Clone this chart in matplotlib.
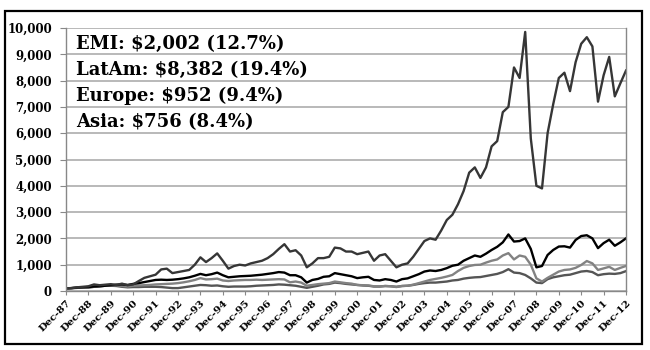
import matplotlib.pyplot as plt
from matplotlib.patches import Rectangle
from matplotlib.ticker import FuncFormatter
import numpy as np

# quarterly index levels, Dec-87 = 100
emi = [100,
       110, 130, 140, 150,
       170, 180, 200, 220,
       240, 250, 230, 270,
       300, 340, 380, 420,
       430, 420, 430, 450,
       480, 520, 580, 650,
       600, 640, 700, 600,
       520, 540, 560, 570,
       580, 600, 620, 650,
       680, 720, 700, 600,
       600, 520, 320, 420,
       460, 540, 560, 680,
       640, 600, 560, 490,
       520, 540, 420, 400,
       450, 420, 360, 450,
       480, 560, 640, 740,
       780, 760, 800, 870,
       960, 1000, 1150, 1250,
       1350, 1300, 1420, 1560,
       1680, 1850, 2150, 1880,
       1900, 2000, 1600, 900,
       950, 1370, 1560, 1690,
       1700, 1650, 1940, 2090,
       2120, 2000, 1630, 1820,
       1950, 1720, 1850, 2002]

latam = [100,
         110, 140, 160, 180,
         250, 220, 240, 260,
         230, 280, 220, 250,
         380, 500, 560, 620,
         820, 850, 680, 720,
         760, 800, 1000, 1280,
         1100, 1250, 1430, 1150,
         850, 950, 1000, 970,
         1050, 1100, 1150, 1250,
         1400, 1600, 1780, 1500,
         1550, 1350, 900, 1050,
         1250, 1250, 1300, 1650,
         1620, 1500, 1500, 1400,
         1450, 1500, 1150, 1350,
         1400, 1150, 900, 1000,
         1050, 1300, 1600, 1900,
         2000, 1950, 2300, 2700,
         2900, 3300, 3800, 4500,
         4700, 4300, 4700, 5500,
         5700, 6800, 7000, 8500,
         8100, 9850, 5800, 4000,
         3900, 6000, 7100, 8100,
         8300, 7600, 8700, 9400,
         9650, 9300, 7200, 8200,
         8900, 7400, 7900, 8382]

europe = [100,
          110, 120, 130, 140,
          160, 180, 200, 210,
          230, 190, 170, 200,
          210, 220, 230, 250,
          260, 270, 280, 300,
          330, 370, 420, 490,
          440, 450, 470, 400,
          380, 400, 410, 420,
          420, 430, 420, 430,
          440, 450, 440, 330,
          360, 320, 200, 230,
          260, 280, 300, 360,
          330, 300, 280, 230,
          220, 210, 180, 170,
          190, 180, 150, 190,
          200, 240, 300, 360,
          420, 460, 500, 550,
          610, 760, 880, 950,
          990, 1000, 1080, 1150,
          1200, 1350, 1440, 1200,
          1350, 1300, 1000, 480,
          360, 500, 620, 740,
          800, 820, 880, 990,
          1140, 1050, 800, 860,
          920, 800, 880, 952]

asia = [100,
        110, 120, 130, 130,
        160, 180, 200, 200,
        190, 160, 140, 150,
        150, 160, 160, 160,
        150, 130, 110, 110,
        140, 170, 200, 230,
        220, 200, 210, 180,
        160, 170, 170, 170,
        180, 200, 210, 220,
        230, 250, 240, 220,
        200, 160, 120, 160,
        200, 250, 270, 320,
        300, 270, 250, 230,
        210, 200, 170, 170,
        190, 180, 160, 190,
        200, 230, 270, 300,
        320, 320, 340, 360,
        400, 420, 470, 500,
        520, 530, 570, 610,
        650, 720, 830, 700,
        680, 610, 480, 320,
        300, 450, 520, 560,
        600, 620, 680, 740,
        760, 720, 600, 640,
        660, 650, 680, 756]

year_labels = ["Dec-87", "Dec-88", "Dec-89", "Dec-90", "Dec-91", "Dec-92",
               "Dec-93", "Dec-94", "Dec-95", "Dec-96", "Dec-97", "Dec-98",
               "Dec-99", "Dec-00", "Dec-01", "Dec-02", "Dec-03", "Dec-04",
               "Dec-05", "Dec-06", "Dec-07", "Dec-08", "Dec-09", "Dec-10",
               "Dec-11", "Dec-12"]

notes = ["EMI: $2,002 (12.7%)", "LatAm: $8,382 (19.4%)",
         "Europe: $952 (9.4%)", "Asia: $756 (8.4%)"]

plt.rcParams['font.family'] = ['DejaVu Serif']
plt.rcParams['font.weight'] = 'bold'

fig = plt.figure(figsize=(6.5, 3.5), dpi=100)
ax = fig.add_axes([66/650, 1 - 291/350, 560/650, 263/350])

x = np.arange(len(emi))
ax.plot(x, asia, color="#555555", lw=1.7)
ax.plot(x, europe, color="#828282", lw=1.7)
ax.plot(x, emi, color="#000000", lw=1.7)
ax.plot(x, latam, color="#363636", lw=1.7)

ax.set_xlim(0, len(emi) - 1)
ax.set_ylim(0, 10000)
ax.set_yticks(np.arange(0, 10001, 1000))
ax.yaxis.set_major_formatter(FuncFormatter(lambda v, p: f"{v:,.0f}"))
ax.grid(axis="y", color="#a6a6a6", lw=1.1)
ax.set_axisbelow(True)

ax.set_xticks(np.arange(0, len(emi), 4))
ax.set_xticklabels(year_labels, rotation=45, ha="right",
                   rotation_mode="anchor", fontsize=7.5)
ax.tick_params(axis="y", labelsize=8.5, length=4, color="#888888", pad=6)
ax.tick_params(axis="x", length=3, color="#888888", pad=2)

ax.spines["top"].set_visible(False)
for s in ["left", "bottom", "right"]:
    ax.spines[s].set_color("#888888")
    ax.spines[s].set_linewidth(1)

for i, t in enumerate(notes):
    ax.text(0.018, 0.975 - i * 0.099, t, transform=ax.transAxes,
            fontsize=13, fontweight="bold", va="top", ha="left")

# frame round the whole figure
fig.patches.append(Rectangle((5/650, 1 - 344/350), 637/650, 333/350,
                             transform=fig.transFigure, fill=False,
                             ec="black", lw=1.6))

fig.savefig("out.png", dpi=100)
